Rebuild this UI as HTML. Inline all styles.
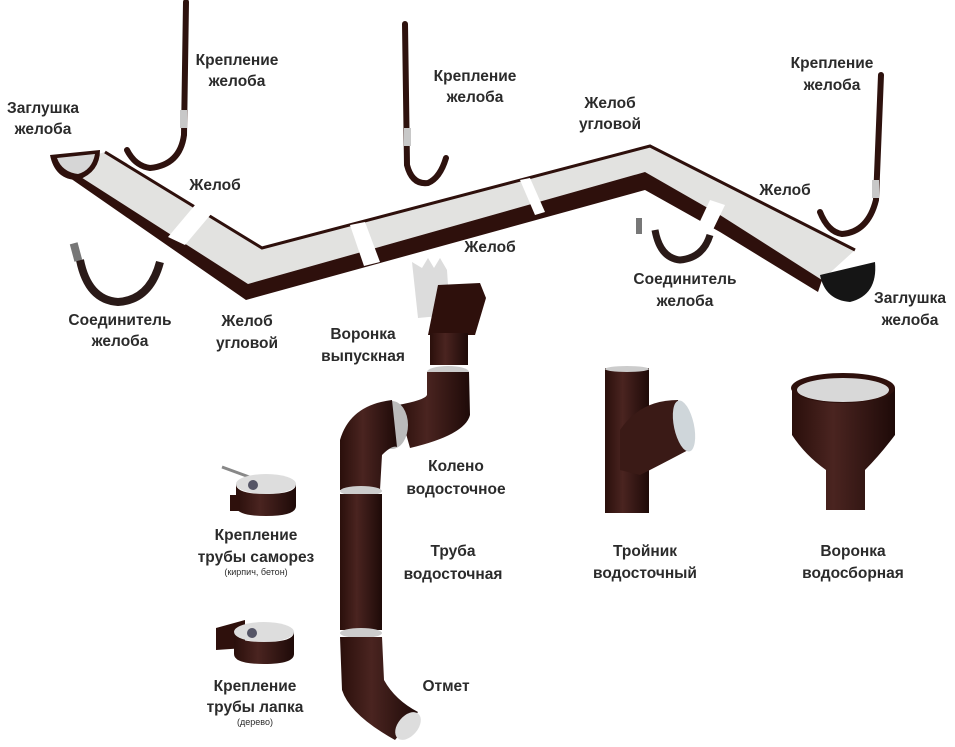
<!DOCTYPE html>
<html><head><meta charset="utf-8"><style>
html,body{margin:0;padding:0;background:#fff}
svg{display:block}
text{font-family:"Liberation Sans",sans-serif;font-weight:bold;font-size:15.5px;fill:#2b2b2b;text-anchor:middle}
.s{font-size:9px;font-weight:normal}
</style></head><body>
<svg width="955" height="747" viewBox="0 0 955 747" xmlns="http://www.w3.org/2000/svg">
<defs>
<linearGradient id="br" x1="0" x2="1"><stop offset="0" stop-color="#2a0f0b"/><stop offset=".4" stop-color="#4a2420"/><stop offset="1" stop-color="#1e0a08"/></linearGradient>
</defs>
<g fill="none" stroke="#2e120e" stroke-width="6" stroke-linecap="round">
<path d="M186 2 L184 135 Q180 165 150 168 Q135 166 127 150"/>
<path d="M405 24 L407 165 Q412 185 428 183 Q440 178 446 158"/>
<path d="M881 75 L876 200 Q868 232 842 234 Q828 232 820 212"/>
</g>
<g fill="#c8c8c8"><rect x="180" y="110" width="7" height="18"/><rect x="404" y="128" width="7" height="18"/><rect x="872" y="180" width="7" height="18"/></g>
<!-- gutters -->
<polygon points="105,152 262,248 650,146 855,250 822,280 720,215 645,172 248,284 62,165" fill="#e2e2e0"/>
<polygon points="62,165 248,284 645,172 720,215 822,280 818,292 720,232 645,190 246,300 70,178" fill="#2e100c"/>
<polyline points="105,152 262,248 650,146 855,250" fill="none" stroke="#2e100c" stroke-width="3"/>
<g fill="#fff"><polygon points="195,205 212,213 185,245 168,237"/><polygon points="350,225 365,222 380,262 364,266"/><polygon points="520,180 530,178 545,212 535,215"/><polygon points="710,200 725,205 708,240 694,234"/></g>
<path d="M50 155 L100 150 Q100 172 78 180 Q55 180 50 155Z" fill="#2e100c"/>
<path d="M57 158 L95 154 Q92 170 78 174 Q62 172 57 158Z" fill="#d6d6d6"/>
<path d="M820 275 L875 262 Q878 295 850 302 Q825 300 820 275Z" fill="#151515"/>
<!-- connectors -->
<path d="M80 260 Q88 300 118 302 Q150 300 160 262" fill="none" stroke="#2a1a18" stroke-width="8"/>
<rect x="72" y="243" width="8" height="18" fill="#777" transform="rotate(-15 76 252)"/>
<path d="M655 230 Q660 258 680 260 Q703 258 710 235" fill="none" stroke="#2a1a18" stroke-width="7"/>
<rect x="636" y="218" width="6" height="16" fill="#777"/>
<!-- funnel outlet -->
<polygon points="412,262 422,268 428,258 434,268 440,258 447,270 450,315 418,318" fill="#dcdcdc"/>
<polygon points="438,285 480,283 486,298 475,335 428,335" fill="#2e100c"/>
<rect x="430" y="333" width="38" height="32" fill="url(#br)"/>
<ellipse cx="448" cy="372" rx="21" ry="6" fill="#ccc"/>
<path d="M427 372 L469 372 L470 415 Q465 435 410 448 L398 405 Q425 400 427 395Z" fill="url(#br)"/>
<ellipse cx="392" cy="425" rx="16" ry="24" fill="#bbb"/>
<path d="M392 400 Q350 405 340 440 L340 490 L380 490 L382 455 Q392 445 397 447Z" fill="url(#br)"/>
<ellipse cx="361" cy="491" rx="21" ry="5" fill="#ccc"/>
<rect x="340" y="494" width="42" height="136" fill="url(#br)"/>
<ellipse cx="361" cy="633" rx="21" ry="5" fill="#ccc"/>
<path d="M340 637 L382 637 L384 680 Q395 700 418 712 L395 740 Q350 715 342 690Z" fill="url(#br)"/>
<ellipse cx="408" cy="726" rx="10" ry="16" transform="rotate(40 408 726)" fill="#ddd"/>
<!-- clamps -->
<line x1="222" y1="467" x2="252" y2="478" stroke="#888" stroke-width="3"/>
<ellipse cx="266" cy="484" rx="30" ry="10" fill="#ddd"/>
<path d="M236 484 Q236 494 266 494 Q296 494 296 484 L296 506 Q296 516 266 516 Q236 516 236 506Z" fill="url(#br)"/>
<rect x="230" y="495" width="10" height="16" fill="#2e100c"/>
<circle cx="253" cy="485" r="5" fill="#556"/>
<polygon points="216,628 245,620 245,648 216,650" fill="#2e100c"/>
<ellipse cx="264" cy="632" rx="30" ry="10" fill="#ddd"/>
<path d="M234 632 Q234 642 264 642 Q294 642 294 632 L294 654 Q294 664 264 664 Q234 664 234 654Z" fill="url(#br)"/>
<circle cx="252" cy="633" r="5" fill="#556"/>
<!-- tee -->
<rect x="605" y="368" width="44" height="145" fill="url(#br)"/>
<ellipse cx="627" cy="369" rx="22" ry="3" fill="#ccc"/>
<path d="M620 430 Q640 400 678 400 L692 448 Q660 465 640 475 L620 470Z" fill="#3a1a16"/>
<ellipse cx="684" cy="426" rx="10" ry="26" transform="rotate(-12 684 426)" fill="#cfd6da"/>
<!-- collecting funnel -->
<path d="M792 388 L895 388 L895 435 Q880 455 865 470 L865 510 L826 510 L826 470 Q805 455 792 435Z" fill="url(#br)"/>
<ellipse cx="843" cy="388" rx="52" ry="15" fill="#2e100c"/>
<ellipse cx="843" cy="390" rx="46" ry="12" fill="#d8d8d8"/>
<!-- labels -->
<text x="237" y="65">Крепление</text><text x="237" y="86">желоба</text>
<text x="43" y="113">Заглушка</text><text x="43" y="134">желоба</text>
<text x="475" y="81">Крепление</text><text x="475" y="102">желоба</text>
<text x="610" y="108">Желоб</text><text x="610" y="129">угловой</text>
<text x="832" y="68">Крепление</text><text x="832" y="90">желоба</text>
<text x="215" y="190">Желоб</text>
<text x="490" y="252">Желоб</text>
<text x="785" y="195">Желоб</text>
<text x="120" y="325">Соединитель</text><text x="120" y="346">желоба</text>
<text x="247" y="326">Желоб</text><text x="247" y="348">угловой</text>
<text x="363" y="339">Воронка</text><text x="363" y="361">выпускная</text>
<text x="685" y="284">Соединитель</text><text x="685" y="306">желоба</text>
<text x="910" y="303">Заглушка</text><text x="910" y="325">желоба</text>
<text x="456" y="471">Колено</text><text x="456" y="494">водосточное</text>
<text x="256" y="540">Крепление</text><text x="256" y="562">трубы саморез</text><text class="s" x="256" y="575">(кирпич, бетон)</text>
<text x="453" y="556">Труба</text><text x="453" y="579">водосточная</text>
<text x="645" y="556">Тройник</text><text x="645" y="578">водосточный</text>
<text x="853" y="556">Воронка</text><text x="853" y="578">водосборная</text>
<text x="255" y="691">Крепление</text><text x="255" y="712">трубы лапка</text><text class="s" x="255" y="725">(дерево)</text>
<text x="446" y="691">Отмет</text>
</svg>
</body></html>
